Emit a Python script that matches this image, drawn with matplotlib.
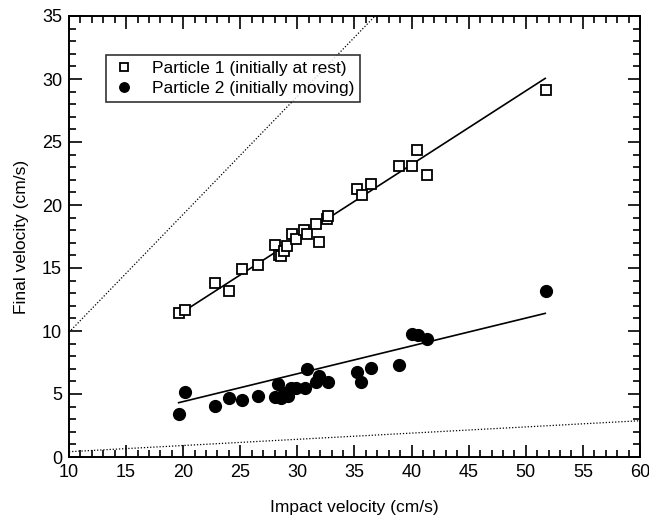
import numpy as np
import matplotlib
matplotlib.use("Agg")
import matplotlib.pyplot as plt
from matplotlib.ticker import MultipleLocator

plt.rcParams['font.family'] = ['Liberation Sans', 'DejaVu Sans']

# Particle 1 (initially at rest)
p1_x = [19.63, 20.19, 22.81, 24.01, 25.12, 26.58, 28.01, 28.36, 28.56, 28.83,
        29.06, 29.53, 29.91, 30.61, 30.81, 31.60, 31.86, 32.62, 32.71, 35.22,
        35.63, 36.47, 38.92, 40.06, 40.47, 41.32, 51.74]
p1_y = [11.40, 11.67, 13.83, 13.20, 14.90, 15.21, 16.83, 16.03, 15.95, 16.38,
        16.77, 17.67, 17.28, 18.02, 17.67, 18.49, 17.09, 18.89, 19.10, 21.24,
        20.82, 21.64, 23.12, 23.12, 24.34, 22.41, 29.13]

# Particle 2 (initially moving)
p2_x = [19.63, 20.19, 22.81, 24.01, 25.12, 26.58, 28.01, 28.33, 28.53, 28.83,
        29.18, 29.41, 29.88, 30.63, 30.84, 31.60, 31.86, 32.65, 35.22, 35.60,
        36.47, 38.92, 40.06, 40.53, 41.35, 51.74]
p2_y = [3.39, 5.16, 4.07, 4.68, 4.55, 4.87, 4.79, 5.79, 4.71, 5.11,
        4.81, 5.45, 5.45, 5.45, 6.96, 5.98, 6.46, 5.93, 6.77, 5.95,
        7.09, 7.28, 9.79, 9.68, 9.39, 13.17]

# Fit lines (start/end)
fit1_x = [19.6, 51.7]
fit1_y = [11.3, 30.05]
fit2_x = [19.6, 51.7]
fit2_y = [4.31, 11.40]

# Dotted reference lines
ref_hi_x = [10, 36.8]
ref_hi_y = [9.9, 35]
ref_lo_x = [10, 60]
ref_lo_y = [0.42, 2.88]

fig = plt.figure(figsize=(6.49, 5.16), dpi=100)
ax = fig.add_axes([69/649, 59/516, (640-69)/649, (457-16)/516])

ax.plot(ref_hi_x, ref_hi_y, ls=(0, (1, 1.5)), color='black', lw=0.9)
ax.plot(ref_lo_x, ref_lo_y, ls=(0, (1, 1.5)), color='black', lw=0.9)
ax.plot(fit1_x, fit1_y, '-', color='black', lw=1.2)
ax.plot(fit2_x, fit2_y, '-', color='black', lw=1.2)

ax.plot(p1_x, p1_y, 's', ms=7.5, mfc='white', mec='black', mew=1.3,
        label='Particle 1 (initially at rest)', zorder=3)
ax.plot(p2_x, p2_y, 'o', ms=8.5, mfc='black', mec='black',
        label='Particle 2 (initially moving)', zorder=3)

ax.set_xlim(10, 60)
ax.set_ylim(0, 35)
ax.xaxis.set_major_locator(MultipleLocator(5))
ax.xaxis.set_minor_locator(MultipleLocator(1))
ax.yaxis.set_major_locator(MultipleLocator(5))
ax.yaxis.set_minor_locator(MultipleLocator(1))
ax.tick_params(which='both', direction='in', top=True, right=True,
               labelsize=13, width=1.2, color='black')
ax.tick_params(which='major', length=9, pad=5)
ax.tick_params(which='minor', length=5)
for s in ax.spines.values():
    s.set_linewidth(1.4)

ax.set_xlabel('Impact velocity (cm/s)', fontsize=12.5, labelpad=14)
ax.set_ylabel('Final velocity (cm/s)', fontsize=12.5, labelpad=9)

leg = ax.legend(loc='upper left', bbox_to_anchor=(37/571, 1-39/441),
                borderaxespad=0,
                fontsize=12.5, frameon=True, fancybox=False, edgecolor='black',
                handletextpad=0.9, borderpad=0.35, labelspacing=0.25,
                handlelength=1.4, markerscale=0.8)
leg.get_frame().set_linewidth(1.2)

fig.savefig('out.png', dpi=100)
